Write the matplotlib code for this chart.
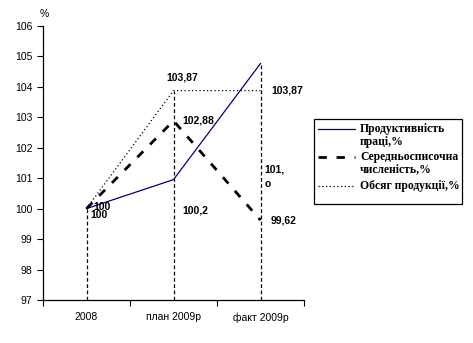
import numpy as np
import matplotlib.pyplot as plt
from matplotlib.lines import Line2D
from matplotlib.patches import Rectangle

plt.rcParams["font.family"] = ["Liberation Sans", "DejaVu Sans"]

categories = ["2008", "план 2009р", "факт 2009р"]
productivity = [100, 100.95, 104.76]
headcount = [100, 102.88, 99.62]
output = [100, 103.87, 103.87]

series_names = ["Продуктивність\nпраці,%", "Середньосписочна\nчисленість,%", "Обсяг продукції,%"]

# data labels as shown on the chart: (category, text)
labels = [
    (0, "100"), (0, "100"), (1, "100,2"),
    (1, "102,88"), (1, "103,87"),
    (2, "103,87"), (2, "101,\nо"), (2, "99,62"),
]

W, H = 473, 343
fig = plt.figure(figsize=(W / 100, H / 100), dpi=100)
ax = fig.add_axes([43 / W, 43 / H, 261 / W, 274.3 / H])

x = np.arange(len(categories))

# drop lines
tops = np.max([productivity, headcount, output], axis=0)
for xi, t in zip(x, tops):
    ax.plot([xi, xi], [97, t], color="black", lw=0.9, ls=(0, (3, 2)))

styles = [
    dict(color="#000080", lw=0.9, ls="-"),
    dict(color="black", lw=2.0, ls=(0, (3, 3.5))),
    dict(color="black", lw=0.9, ls=(0, (1, 2))),
]
for vals, st in zip([productivity, headcount, output], styles):
    ax.plot(x, vals, **st)

# data label offsets (x in category units, y in %)
lab_pos = [(0.08, 100.05), (0.05, 99.78), (1.1, 99.93),
           (1.1, 102.88), (0.92, 104.31),
           (2.12, 103.87), (2.05, 101.05), (2.12, 99.62)]
for (xi, txt), (px, py) in zip(labels, lab_pos):
    ax.text(px, py, txt, fontsize=7.5, fontweight="bold", va="center", ha="left",
            linespacing=1.5)

ax.set_xlim(-0.5, 2.5)
ax.set_ylim(97, 106)
ax.set_yticks(np.arange(97, 107, 1))
ax.set_xticks([-0.5, 0.5, 1.5, 2.5])
ax.set_xticklabels([])
ax.set_xticks(x, minor=True)
ax.set_xticklabels(categories, minor=True)
ax.tick_params(axis="x", which="minor", length=0, pad=9, labelsize=7.5)
ax.tick_params(axis="x", which="major", length=4, direction="out")
ax.tick_params(axis="y", length=4, direction="out", labelsize=7.5)
for s in ["top", "right"]:
    ax.spines[s].set_visible(False)
ax.spines["left"].set_linewidth(0.9)
ax.spines["bottom"].set_linewidth(0.9)

fig.text(40 / W, 1 - 14 / H, "%", fontsize=7.5, ha="left", va="center")

# legend drawn by hand (handles aligned with first text line, as in Excel)
def fx(px):
    return px / W

def fy(py):
    return 1 - py / H

fig.add_artist(Rectangle((fx(314), fy(204)), fx(148), 85 / H, transform=fig.transFigure,
                         fill=False, edgecolor="black", lw=0.9))
entry_y = [129, 157, 186]
for name, st, ey in zip(series_names, styles, entry_y):
    fig.add_artist(Line2D([fx(318), fx(355)], [fy(ey), fy(ey)], transform=fig.transFigure, **st))
    for k, line in enumerate(name.split("\n")):
        fig.text(fx(360), fy(ey + 13 * k), line, family="Liberation Serif",
                 fontweight="bold", fontsize=8.4, ha="left", va="center")

fig.savefig("out.png", dpi=100)
